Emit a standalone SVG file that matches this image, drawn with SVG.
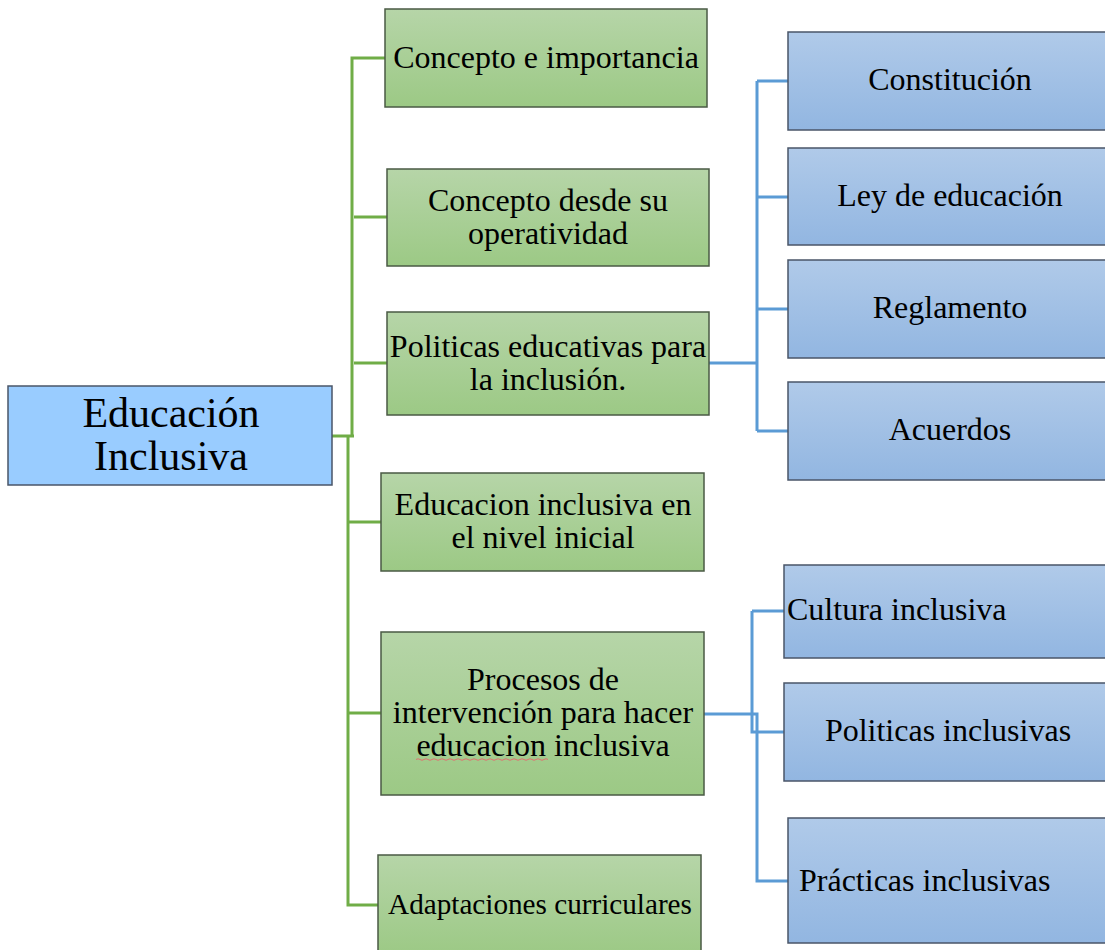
<svg xmlns="http://www.w3.org/2000/svg" width="1105" height="950" viewBox="0 0 1105 950">
<defs>
<linearGradient id="gG" x1="0" y1="0" x2="0" y2="1">
<stop offset="0" stop-color="#B6D5A8"/>
<stop offset="1" stop-color="#9CC985"/>
</linearGradient>
<linearGradient id="gB" x1="0" y1="0" x2="0" y2="1">
<stop offset="0" stop-color="#B0CAE9"/>
<stop offset="1" stop-color="#92B6E1"/>
</linearGradient>
<style>
.g{fill:url(#gG);stroke:#4A5A44;stroke-width:1.5}
.b{fill:url(#gB);stroke:#4A5568;stroke-width:1.5}
.r{fill:#99CCFF;stroke:#4A5568;stroke-width:1.5}
.t{font-family:"Liberation Serif","Times New Roman",serif;font-size:32px;fill:#000;text-anchor:middle}
.tl{font-family:"Liberation Serif","Times New Roman",serif;font-size:32px;fill:#000}
.tr{font-family:"Liberation Serif","Times New Roman",serif;font-size:42px;fill:#000;text-anchor:middle}
.cg{fill:none;stroke:#70AD47;stroke-width:3}
.cb{fill:none;stroke:#5B9BD5;stroke-width:3}
</style>
</defs>
<rect width="1105" height="950" fill="#fff"/>
<g id="connectors">
<path class="cg" d="M332 436 H354 M352 436 V58 H385 M354 217 H387 M354 363 H387 M348 436 V905 H378 M348 522 H381 M348 713 H381"/>
<path class="cb" d="M709 363 H757 M757 81 V431 M757 81 H788 M757 197 H788 M757 309 H788 M757 431 H788"/>
<path class="cb" d="M704 714 H757 V881 H788 M752 611 V732 H784 M752 611 H784"/>
</g>
<g id="root">
<rect class="r" x="8" y="386" width="324" height="99"/>
<text class="tr" x="171" y="427">Educación</text>
<text class="tr" x="171" y="470">Inclusiva</text>
</g>
<g id="n1">
<rect class="g" x="385" y="9" width="322" height="98"/>
<text class="t" x="546" y="68">Concepto e importancia</text>
</g>
<g id="n2">
<rect class="g" x="387" y="169" width="322" height="97"/>
<text class="t" x="548" y="211">Concepto desde su</text>
<text class="t" x="548" y="244">operatividad</text>
</g>
<g id="n3">
<rect class="g" x="387" y="312" width="322" height="103"/>
<text class="t" x="548" y="357">Politicas educativas para</text>
<text class="t" x="548" y="390">la inclusión.</text>
</g>
<g id="n4">
<rect class="g" x="381" y="473" width="323" height="98"/>
<text class="t" x="543" y="515">Educacion inclusiva en</text>
<text class="t" x="543" y="548">el nivel inicial</text>
</g>
<g id="n5">
<rect class="g" x="381" y="632" width="323" height="163"/>
<text class="t" x="543" y="690">Procesos de</text>
<text class="t" x="543" y="723">intervención para hacer</text>
<text class="t" x="543" y="756">educacion inclusiva</text>
<path d="M416 759.5 q2 -1.5 4 0 t4 0 t4 0 t4 0 t4 0 t4 0 t4 0 t4 0 t4 0 t4 0 t4 0 t4 0 t4 0 t4 0 t4 0 t4 0 t4 0 t4 0 t4 0 t4 0 t4 0 t4 0 t4 0 t4 0 t4 0 t4 0 t4 0 t4 0 t4 0 t4 0 t4 0 t4 0 t4 0" fill="none" stroke="#E07070" stroke-width="1"/>
</g>
<g id="n6">
<rect class="g" x="378" y="855" width="323" height="100"/>
<text class="t" x="540" y="914" style="font-size:29.2px">Adaptaciones curriculares</text>
</g>
<g id="b1">
<rect class="b" x="788" y="32" width="330" height="98"/>
<text class="t" x="950" y="90">Constitución</text>
</g>
<g id="b2">
<rect class="b" x="788" y="148" width="330" height="97"/>
<text class="t" x="950" y="206">Ley de educación</text>
</g>
<g id="b3">
<rect class="b" x="788" y="260" width="330" height="98"/>
<text class="t" x="950" y="318">Reglamento</text>
</g>
<g id="b4">
<rect class="b" x="788" y="382" width="330" height="98"/>
<text class="t" x="950" y="440">Acuerdos</text>
</g>
<g id="b5">
<rect class="b" x="784" y="565" width="330" height="93"/>
<text class="tl" x="787" y="620">Cultura inclusiva</text>
</g>
<g id="b6">
<rect class="b" x="784" y="683" width="330" height="98"/>
<text class="t" x="948" y="741">Politicas inclusivas</text>
</g>
<g id="b7">
<rect class="b" x="788" y="818" width="330" height="125"/>
<text class="tl" x="799" y="891">Prácticas inclusivas</text>
</g>
</svg>
